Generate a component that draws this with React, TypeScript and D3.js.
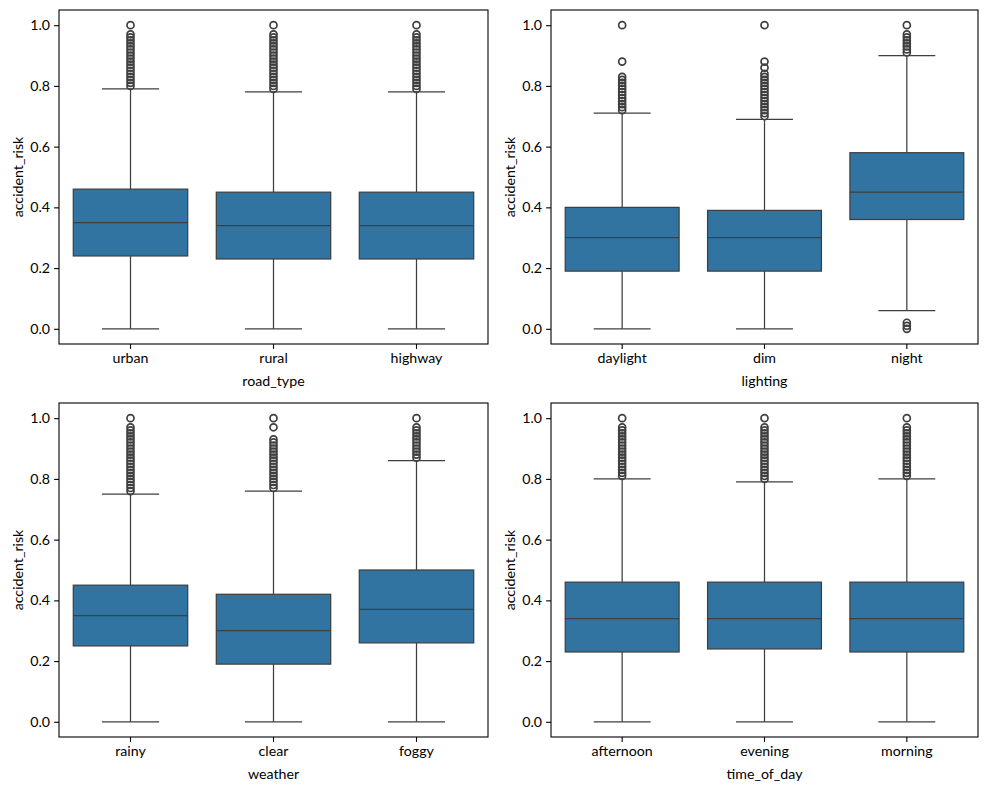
import { useEffect, useRef } from "react";
import * as d3 from "d3";

// five-number summaries: [whiskerLow, q1, median, q3, whiskerHigh]
const roadTypes = ["urban", "rural", "highway"];
const roadStats = [
  [0, 0.24, 0.35, 0.46, 0.79],
  [0, 0.23, 0.34, 0.45, 0.78],
  [0, 0.23, 0.34, 0.45, 0.78],
];
const roadFliers = [
  [0.8, 0.81, 0.82, 0.83, 0.84, 0.85, 0.86, 0.87, 0.88, 0.89, 0.9, 0.91, 0.92, 0.93, 0.94, 0.95, 0.96, 0.97, 1.0],
  [0.79, 0.8, 0.81, 0.82, 0.83, 0.84, 0.85, 0.86, 0.87, 0.88, 0.89, 0.9, 0.91, 0.92, 0.93, 0.94, 0.95, 0.96, 0.97, 1.0],
  [0.79, 0.8, 0.81, 0.82, 0.83, 0.84, 0.85, 0.86, 0.87, 0.88, 0.89, 0.9, 0.91, 0.92, 0.93, 0.94, 0.95, 0.96, 0.97, 1.0],
];

const lightings = ["daylight", "dim", "night"];
const lightStats = [
  [0, 0.19, 0.3, 0.4, 0.71],
  [0, 0.19, 0.3, 0.39, 0.69],
  [0.06, 0.36, 0.45, 0.58, 0.9],
];
const lightFliers = [
  [0.72, 0.73, 0.74, 0.75, 0.76, 0.77, 0.78, 0.79, 0.8, 0.81, 0.82, 0.83, 0.88, 1.0],
  [0.7, 0.71, 0.72, 0.73, 0.74, 0.75, 0.76, 0.77, 0.78, 0.79, 0.8, 0.81, 0.82, 0.83, 0.84, 0.86, 0.88, 1.0],
  [0, 0.01, 0.02, 0.91, 0.92, 0.93, 0.94, 0.95, 0.96, 0.97, 1.0],
];

const weathers = ["rainy", "clear", "foggy"];
const weatherStats = [
  [0, 0.25, 0.35, 0.45, 0.75],
  [0, 0.19, 0.3, 0.42, 0.76],
  [0, 0.26, 0.37, 0.5, 0.86],
];
const weatherFliers = [
  [0.76, 0.77, 0.78, 0.79, 0.8, 0.81, 0.82, 0.83, 0.84, 0.85, 0.86, 0.87, 0.88, 0.89, 0.9, 0.91, 0.92, 0.93, 0.94, 0.95, 0.96, 0.97, 1.0],
  [0.77, 0.78, 0.79, 0.8, 0.81, 0.82, 0.83, 0.84, 0.85, 0.86, 0.87, 0.88, 0.89, 0.9, 0.91, 0.92, 0.93, 0.97, 1.0],
  [0.87, 0.88, 0.89, 0.9, 0.91, 0.92, 0.93, 0.94, 0.95, 0.96, 0.97, 1.0],
];

const timesOfDay = ["afternoon", "evening", "morning"];
const timeStats = [
  [0, 0.23, 0.34, 0.46, 0.8],
  [0, 0.24, 0.34, 0.46, 0.79],
  [0, 0.23, 0.34, 0.46, 0.8],
];
const timeFliers = [
  [0.81, 0.82, 0.83, 0.84, 0.85, 0.86, 0.87, 0.88, 0.89, 0.9, 0.91, 0.92, 0.93, 0.94, 0.95, 0.96, 0.97, 1.0],
  [0.8, 0.81, 0.82, 0.83, 0.84, 0.85, 0.86, 0.87, 0.88, 0.89, 0.9, 0.91, 0.92, 0.93, 0.94, 0.95, 0.96, 0.97, 1.0],
  [0.81, 0.82, 0.83, 0.84, 0.85, 0.86, 0.87, 0.88, 0.89, 0.9, 0.91, 0.92, 0.93, 0.94, 0.95, 0.96, 0.97, 1.0],
];

const yTicks = [0, 0.2, 0.4, 0.6, 0.8, 1.0];

const panels = [
  { label: "road_type", cats: roadTypes, stats: roadStats, fliers: roadFliers, x0: 59, x1: 488, y0: 10, y1: 344 },
  { label: "lighting", cats: lightings, stats: lightStats, fliers: lightFliers, x0: 551, x1: 978, y0: 10, y1: 344 },
  { label: "weather", cats: weathers, stats: weatherStats, fliers: weatherFliers, x0: 59, x1: 488, y0: 403, y1: 737 },
  { label: "time_of_day", cats: timesOfDay, stats: timeStats, fliers: timeFliers, x0: 551, x1: 978, y0: 403, y1: 737 },
];

const FONT = "Lato, 'Open Sans', sans-serif";
const FS = 14.2;
const BOX = "#3274a1";
const LINE = "#3f3f3f";

const drawPanel = (svg, p) => {
  const g = svg.append("g");
  const x = d3.scaleBand().domain(p.cats).range([p.x0, p.x1]).padding(0);
  const y = d3.scaleLinear().domain([-0.05, 1.05]).range([p.y1, p.y0]);
  const bw = x.bandwidth() * 0.8;
  const cx = (c) => (x(c) || 0) + x.bandwidth() / 2;

  p.cats.forEach((c, i) => {
    const [lo, q1, med, q3, hi] = p.stats[i];
    const m = cx(c);
    const box = g.append("g").attr("stroke", LINE).attr("stroke-width", 1.25);
    box.append("line").attr("x1", m).attr("x2", m).attr("y1", y(q3)).attr("y2", y(hi));
    box.append("line").attr("x1", m).attr("x2", m).attr("y1", y(q1)).attr("y2", y(lo));
    box.append("line").attr("x1", m - bw / 4).attr("x2", m + bw / 4).attr("y1", y(hi)).attr("y2", y(hi));
    box.append("line").attr("x1", m - bw / 4).attr("x2", m + bw / 4).attr("y1", y(lo)).attr("y2", y(lo));
    box
      .append("rect")
      .attr("x", m - bw / 2)
      .attr("y", y(q3))
      .attr("width", bw)
      .attr("height", y(q1) - y(q3))
      .attr("fill", BOX);
    box.append("line").attr("x1", m - bw / 2).attr("x2", m + bw / 2).attr("y1", y(med)).attr("y2", y(med));

    g.append("g")
      .selectAll("circle")
      .data(p.fliers[i])
      .join("circle")
      .attr("cx", m)
      .attr("cy", (v) => y(v))
      .attr("r", 3.5)
      .attr("fill", "none")
      .attr("stroke", LINE)
      .attr("stroke-width", 1.7);
  });

  // spines
  g.append("rect")
    .attr("x", p.x0)
    .attr("y", p.y0)
    .attr("width", p.x1 - p.x0)
    .attr("height", p.y1 - p.y0)
    .attr("fill", "none")
    .attr("stroke", "#000")
    .attr("stroke-width", 1.1);

  const yAxis = g
    .append("g")
    .attr("transform", `translate(${p.x0},0)`)
    .call(d3.axisLeft(y).tickValues(yTicks).tickFormat(d3.format(".1f")).tickSize(4.9).tickPadding(4));
  const xAxis = g
    .append("g")
    .attr("transform", `translate(0,${p.y1})`)
    .call(d3.axisBottom(x).tickSize(4.9).tickPadding(4));
  [yAxis, xAxis].forEach((a) => {
    a.select(".domain").remove();
    a.selectAll("line").attr("stroke", "#000").attr("stroke-width", 1.1);
    a.selectAll("text").attr("fill", "#000").attr("font-family", FONT).attr("font-size", FS);
  });

  g.append("text")
    .attr("x", (p.x0 + p.x1) / 2)
    .attr("y", p.y1 + 42)
    .attr("text-anchor", "middle")
    .attr("font-family", FONT)
    .attr("font-size", FS)
    .text(p.label);
  g.append("text")
    .attr("transform", `translate(${p.x0 - 36},${(p.y0 + p.y1) / 2}) rotate(-90)`)
    .attr("text-anchor", "middle")
    .attr("font-family", FONT)
    .attr("font-size", FS)
    .text("accident_risk");
};

export default function App() {
  const ref = useRef(null);

  useEffect(() => {
    const svg = d3.select(ref.current);
    svg.selectAll("*").remove();
    svg.append("rect").attr("width", 989).attr("height", 790).attr("fill", "#fff");
    panels.forEach((p) => drawPanel(svg, p));
  }, []);

  return (
    <svg
      ref={ref}
      width={989}
      height={790}
      style={{ position: "absolute", left: 0, top: 0, display: "block" }}
    />
  );
}
